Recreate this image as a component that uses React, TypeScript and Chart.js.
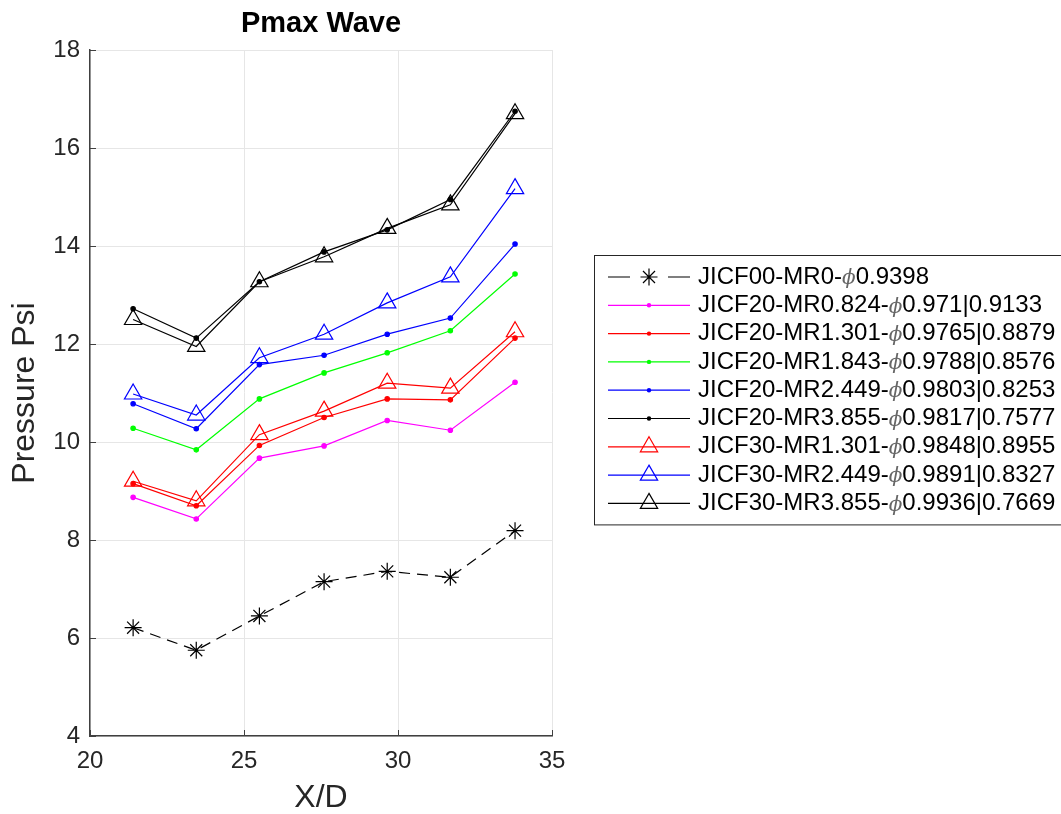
import React, { useEffect, useRef } from 'react';
import { Chart, registerables } from 'chart.js';

Chart.register(...registerables);

const xPositions = [21.4, 23.45, 25.5, 27.6, 29.65, 31.7, 33.8];

const jicf00Mr0 = [6.21, 5.75, 6.45, 7.15, 7.36, 7.24, 8.19];
const jicf20Mr0824 = [8.87, 8.43, 9.67, 9.92, 10.44, 10.24, 11.22];
const jicf20Mr1301 = [9.15, 8.7, 9.93, 10.5, 10.88, 10.86, 12.12];
const jicf20Mr1843 = [10.28, 9.84, 10.88, 11.41, 11.82, 12.27, 13.43];
const jicf20Mr2449 = [10.78, 10.27, 11.58, 11.77, 12.2, 12.53, 14.04];
const jicf20Mr3855 = [12.72, 12.12, 13.27, 13.88, 14.33, 14.95, 16.75];
const jicf30Mr1301 = [9.2, 8.8, 10.15, 10.63, 11.2, 11.1, 12.25];
const jicf30Mr2449 = [10.98, 10.55, 11.72, 12.2, 12.84, 13.37, 15.17];
const jicf30Mr3855 = [12.5, 11.95, 13.27, 13.78, 14.36, 14.84, 16.7];

const seriesLabels = [
  ['JICF00-MR0-', '0.9398'],
  ['JICF20-MR0.824-', '0.971|0.9133'],
  ['JICF20-MR1.301-', '0.9765|0.8879'],
  ['JICF20-MR1.843-', '0.9788|0.8576'],
  ['JICF20-MR2.449-', '0.9803|0.8253'],
  ['JICF20-MR3.855-', '0.9817|0.7577'],
  ['JICF30-MR1.301-', '0.9848|0.8955'],
  ['JICF30-MR2.449-', '0.9891|0.8327'],
  ['JICF30-MR3.855-', '0.9936|0.7669'],
];
const seriesValues = [
  jicf00Mr0, jicf20Mr0824, jicf20Mr1301, jicf20Mr1843, jicf20Mr2449,
  jicf20Mr3855, jicf30Mr1301, jicf30Mr2449, jicf30Mr3855,
];
const seriesColors = ['#000000', '#ff00ff', '#ff0000', '#00ff00', '#0000ff', '#000000', '#ff0000', '#0000ff', '#000000'];
const seriesMarkers = ['star', 'dot', 'dot', 'dot', 'dot', 'dot', 'tri', 'tri', 'tri'];
const seriesDashed = [true, false, false, false, false, false, false, false, false];

const xTicks = [20, 25, 30, 35];
const yTicks = [4, 6, 8, 10, 12, 14, 16, 18];

const FONT = '"Liberation Sans", Arial, Helvetica, sans-serif';
const LEGEND_FONT = 24;
const TRI_R = 10;
const STAR_R = 8.5;

function drawMarker(ctx: CanvasRenderingContext2D, kind: string, x: number, y: number, color: string) {
  ctx.save();
  ctx.strokeStyle = color;
  ctx.fillStyle = color;
  ctx.lineWidth = 1.2;
  ctx.setLineDash([]);
  if (kind === 'star') {
    const r = STAR_R;
    ctx.beginPath();
    for (let i = 0; i < 4; i++) {
      const a = (i * Math.PI) / 4;
      ctx.moveTo(x - r * Math.cos(a), y - r * Math.sin(a));
      ctx.lineTo(x + r * Math.cos(a), y + r * Math.sin(a));
    }
    ctx.stroke();
  } else if (kind === 'dot') {
    ctx.beginPath();
    ctx.arc(x, y, 2.2, 0, Math.PI * 2);
    ctx.fill();
  } else {
    const r = TRI_R;
    ctx.beginPath();
    ctx.moveTo(x, y - r);
    ctx.lineTo(x + r * 0.866, y + r * 0.5);
    ctx.lineTo(x - r * 0.866, y + r * 0.5);
    ctx.closePath();
    ctx.stroke();
  }
  ctx.restore();
}

const extrasPlugin = {
  id: 'extras',
  afterDraw(chart: any) {
    const ctx: CanvasRenderingContext2D = chart.ctx;
    const area = chart.chartArea;
    const xs = chart.scales.x;
    const ys = chart.scales.y;
    ctx.save();
    // title
    ctx.fillStyle = '#000';
    ctx.font = `bold 29px ${FONT}`;
    ctx.textAlign = 'center';
    ctx.textBaseline = 'middle';
    ctx.fillText('Pmax Wave', (area.left + area.right) / 2, 24);
    // inward ticks
    ctx.strokeStyle = '#404040';
    ctx.lineWidth = 1;
    ctx.beginPath();
    xTicks.forEach((t) => {
      const px = Math.round(xs.getPixelForValue(t)) + 0.5;
      ctx.moveTo(px, area.bottom);
      ctx.lineTo(px, area.bottom - 6);
    });
    yTicks.forEach((t) => {
      const py = Math.round(ys.getPixelForValue(t)) + 0.5;
      ctx.moveTo(area.left, py);
      ctx.lineTo(area.left + 6, py);
    });
    ctx.stroke();

    // legend
    const boxLeft = 594.5;
    const boxTop = 255.5;
    const pitch = 28.3;
    const firstRow = boxTop + 21.5;
    const boxBottom = firstRow + pitch * (seriesLabels.length - 1) + 21.5;
    ctx.fillStyle = '#ffffff';
    ctx.fillRect(boxLeft, boxTop, 600, boxBottom - boxTop);
    ctx.strokeStyle = '#262626';
    ctx.lineWidth = 1;
    ctx.strokeRect(boxLeft, boxTop, 600, boxBottom - boxTop);
    seriesLabels.forEach((lab, i) => {
      const y = firstRow + i * pitch;
      ctx.save();
      ctx.strokeStyle = seriesColors[i];
      ctx.lineWidth = 1.2;
      ctx.beginPath();
      if (seriesDashed[i]) {
        ctx.moveTo(608, y); ctx.lineTo(630, y);
        ctx.moveTo(668, y); ctx.lineTo(690, y);
      } else {
        ctx.moveTo(608, y); ctx.lineTo(690, y);
      }
      ctx.stroke();
      ctx.restore();
      drawMarker(ctx, seriesMarkers[i], 649, y, seriesColors[i]);
      ctx.fillStyle = '#000';
      ctx.textAlign = 'left';
      ctx.textBaseline = 'middle';
      ctx.font = `${LEGEND_FONT}px ${FONT}`;
      let tx = 698;
      ctx.fillText(lab[0], tx, y);
      tx += ctx.measureText(lab[0]).width;
      ctx.font = `italic ${LEGEND_FONT - 4}px "DejaVu Serif", serif`;
      ctx.fillStyle = '#666';
      ctx.fillText('\u03d5', tx, y + 2);
      tx += ctx.measureText('\u03d5').width;
      ctx.font = `${LEGEND_FONT}px ${FONT}`;
      ctx.fillStyle = '#000';
      ctx.fillText(lab[1], tx, y);
    });
    ctx.restore();
  },
};

export default function App() {
  const ref = useRef<HTMLCanvasElement | null>(null);
  useEffect(() => {
    if (!ref.current) return;
    const datasets = seriesValues.map((vals, i) => {
      const m = seriesMarkers[i];
      return {
        label: seriesLabels[i].join('\u03d5'),
        data: vals.map((v, j) => ({ x: xPositions[j], y: v })),
        borderColor: seriesColors[i],
        backgroundColor: m === 'dot' ? seriesColors[i] : 'rgba(0,0,0,0)',
        borderWidth: 1.2,
        borderDash: seriesDashed[i] ? [11, 7] : [],
        pointStyle: m === 'star' ? 'star' : m === 'tri' ? 'triangle' : 'circle',
        pointRadius: m === 'star' ? STAR_R : m === 'tri' ? TRI_R : 2.2,
        pointBorderWidth: 1.2,
        pointBorderColor: seriesColors[i],
        pointBackgroundColor: m === 'dot' ? seriesColors[i] : 'rgba(0,0,0,0)',
        tension: 0,
        fill: false,
      };
    });
    const chart = new Chart(ref.current, {
      type: 'line',
      data: { datasets },
      options: {
        animation: false,
        responsive: false,
        devicePixelRatio: 1,
        layout: { padding: { top: 50, right: 509, left: 0, bottom: 0 } },
        plugins: { legend: { display: false }, title: { display: false }, tooltip: { enabled: false } },
        scales: {
          x: {
            type: 'linear',
            min: 20,
            max: 35,
            afterBuildTicks: (s: any) => { s.ticks = xTicks.map((v) => ({ value: v })); },
            afterFit: (s: any) => { s.height = 78; },
            ticks: { color: '#262626', font: { family: FONT, size: 24 }, padding: 11, maxRotation: 0 },
            grid: { color: '#e6e6e6', lineWidth: 1, drawTicks: false },
            border: { display: true, color: '#404040', width: 1.5 },
            title: { display: true, text: 'X/D', color: '#262626', font: { family: FONT, size: 32 }, padding: { top: 0, bottom: -3 } },
          },
          y: {
            type: 'linear',
            min: 4,
            max: 18,
            afterBuildTicks: (s: any) => { s.ticks = yTicks.map((v) => ({ value: v })); },
            afterFit: (s: any) => { s.width = 90; },
            ticks: { color: '#262626', font: { family: FONT, size: 24 }, padding: 10 },
            grid: { color: '#e6e6e6', lineWidth: 1, drawTicks: false },
            border: { display: true, color: '#404040', width: 1.5 },
            title: { display: true, text: 'Pressure Psi', color: '#262626', font: { family: FONT, size: 32 }, padding: { top: 6, bottom: 0 } },
          },
        },
      },
      plugins: [extrasPlugin],
    });
    return () => chart.destroy();
  }, []);
  return (
    <div style={{ position: 'absolute', left: 0, top: 0, width: 1061, height: 814, background: '#fff' }}>
      <canvas ref={ref} width={1061} height={814} style={{ display: 'block', width: 1061, height: 814 }} />
    </div>
  );
}
